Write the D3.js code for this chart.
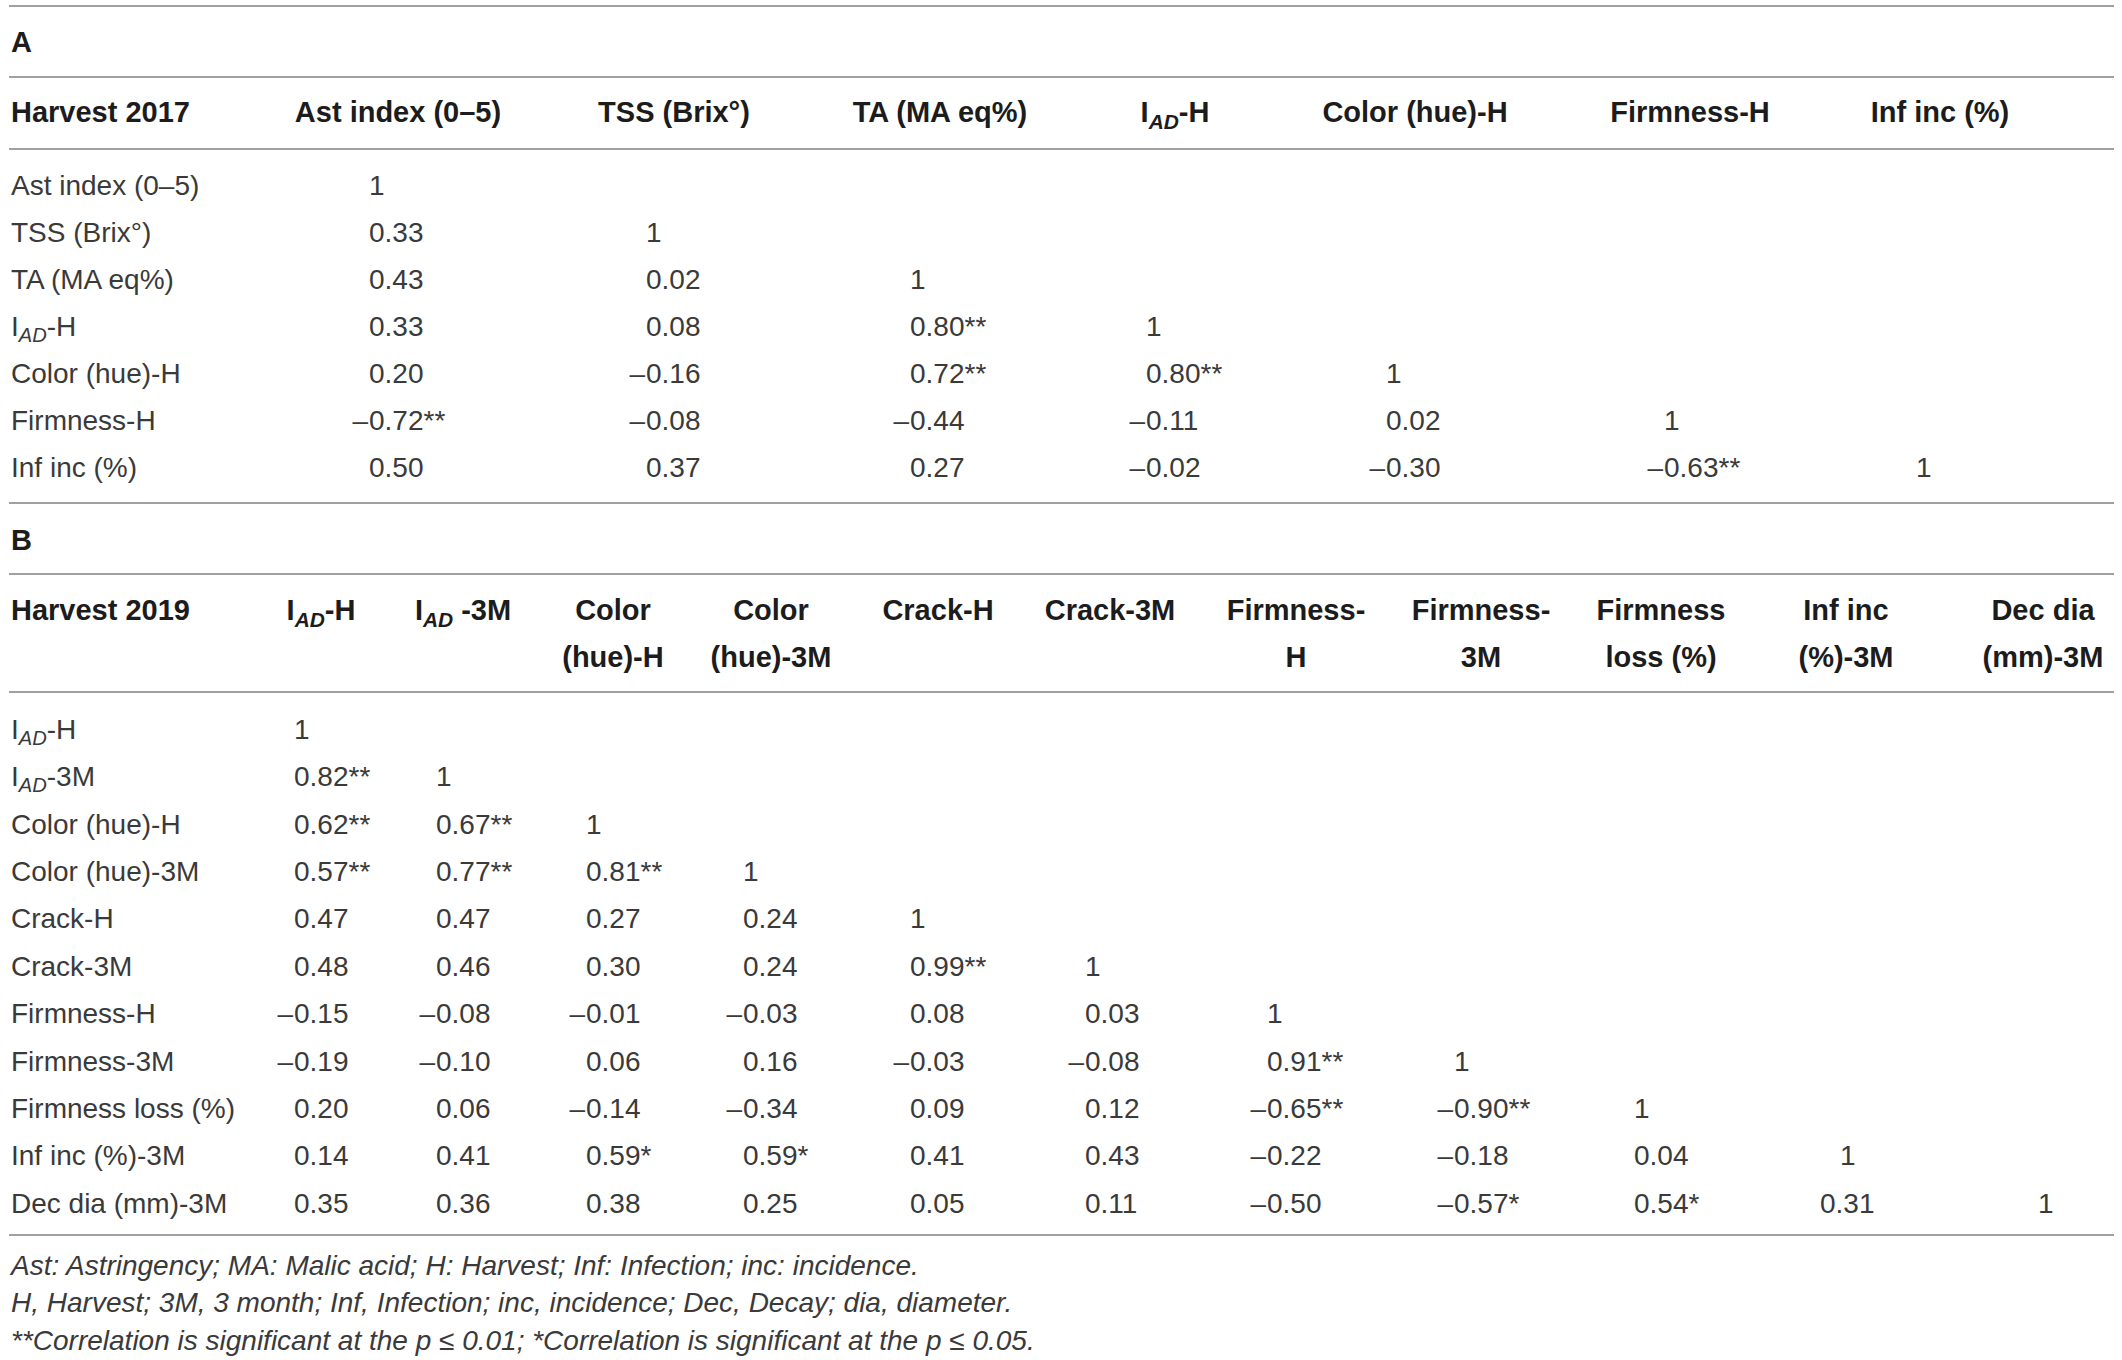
<!DOCTYPE html>
<html>
<head>
<meta charset="utf-8">
<script src="https://cdn.jsdelivr.net/npm/d3@7/dist/d3.min.js"></script>
<style>
  body { margin: 0; background: #fff; }
  svg { display: block; }
</style>
</head>
<body>
<div id="chart"></div>
<script>
// ---- table A (harvest 2017)
const titleA = "Harvest 2017";
const colsA = ["Ast index (0–5)", "TSS (Brix°)", "TA (MA eq%)", "I{AD}-H", "Color (hue)-H", "Firmness-H", "Inf inc (%)"];
const rowsA = colsA;
const corrA = [
  [1],
  [0.33, 1],
  [0.43, 0.02, 1],
  [0.33, 0.08, 0.80, 1],
  [0.20, -0.16, 0.72, 0.80, 1],
  [-0.72, -0.08, -0.44, -0.11, 0.02, 1],
  [0.50, 0.37, 0.27, -0.02, -0.30, -0.63, 1]
];
// number of asterisks per cell
const starsA = [
  [0],
  [0, 0],
  [0, 0, 0],
  [0, 0, 2, 0],
  [0, 0, 2, 2, 0],
  [2, 0, 0, 0, 0, 0],
  [0, 0, 0, 0, 0, 2, 0]
];

// ---- table B (harvest 2019)
const titleB = "Harvest 2019";
const colsB = [["I{AD}-H"], ["I{AD} -3M"], ["Color", "(hue)-H"], ["Color", "(hue)-3M"], ["Crack-H"], ["Crack-3M"],
  ["Firmness-", "H"], ["Firmness-", "3M"], ["Firmness", "loss (%)"], ["Inf inc", "(%)-3M"], ["Dec dia", "(mm)-3M"]];
const rowsB = ["I{AD}-H", "I{AD}-3M", "Color (hue)-H", "Color (hue)-3M", "Crack-H", "Crack-3M", "Firmness-H",
  "Firmness-3M", "Firmness loss (%)", "Inf inc (%)-3M", "Dec dia (mm)-3M"];
const corrB = [
  [1],
  [0.82, 1],
  [0.62, 0.67, 1],
  [0.57, 0.77, 0.81, 1],
  [0.47, 0.47, 0.27, 0.24, 1],
  [0.48, 0.46, 0.30, 0.24, 0.99, 1],
  [-0.15, -0.08, -0.01, -0.03, 0.08, 0.03, 1],
  [-0.19, -0.10, 0.06, 0.16, -0.03, -0.08, 0.91, 1],
  [0.20, 0.06, -0.14, -0.34, 0.09, 0.12, -0.65, -0.90, 1],
  [0.14, 0.41, 0.59, 0.59, 0.41, 0.43, -0.22, -0.18, 0.04, 1],
  [0.35, 0.36, 0.38, 0.25, 0.05, 0.11, -0.50, -0.57, 0.54, 0.31, 1]
];
const starsB = [
  [0],
  [2, 0],
  [2, 2, 0],
  [2, 2, 2, 0],
  [0, 0, 0, 0, 0],
  [0, 0, 0, 0, 2, 0],
  [0, 0, 0, 0, 0, 0, 0],
  [0, 0, 0, 0, 0, 0, 2, 0],
  [0, 0, 0, 0, 0, 0, 2, 2, 0],
  [0, 0, 1, 1, 0, 0, 0, 0, 0, 0],
  [0, 0, 0, 0, 0, 0, 0, 1, 1, 0, 0]
];

const footnotes = [
  "Ast: Astringency; MA: Malic acid; H: Harvest; Inf: Infection; inc: incidence.",
  "H, Harvest; 3M, 3 month; Inf, Infection; inc, incidence; Dec, Decay; dia, diameter.",
  "**Correlation is significant at the p ≤ 0.01; *Correlation is significant at the p ≤ 0.05."
];

// ---- layout
const W = 2122, H = 1360;
const left = 11, lineX0 = 9, lineX1 = 2114;
const fs = 28, fsHead = 29;
const bodyColor = "#3a3a3a", headColor = "#1c1c1c", ruleColor = "#a0a0a0";
const rules = [6, 77, 149, 503, 574, 692, 1235];
const headCentersA = [398, 674, 940, 1175, 1415, 1690, 1940];
const anchorsA = [369, 646, 910, 1146, 1386, 1664, 1916];
const headCentersB = [321, 463, 613, 771, 938, 1110, 1296, 1481, 1661, 1846, 2043];
const anchorsB = [294, 436, 586, 743, 910, 1085, 1267, 1454, 1634, 1820, 2038];
const oneShiftB = [0, 0, 0, 0, 0, 0, 0, 0, 0, 20, 0];

const svg = d3.select("#chart").append("svg")
    .attr("width", W)
    .attr("height", H)
    .style("font-family", "'Liberation Sans', Arial, Helvetica, sans-serif");

const fmt = d3.format(".2f");

// text with {subscript} parts
function rich(text, str, size) {
    const parts = str.split(/(\{[^}]*\})/).filter(p => p.length);
    let down = false;
    parts.forEach(p => {
        if (p[0] === "{") {
            text.append("tspan")
                .attr("font-style", "italic")
                .attr("font-size", size * 0.72)
                .attr("dy", size * 0.22)
                .text(p.slice(1, -1));
            down = true;
        } else {
            const t = text.append("tspan").text(p);
            if (down) {
                t.attr("dy", -size * 0.22);
                down = false;
            }
        }
    });
}

svg.selectAll("line.rule")
    .data(rules)
    .enter().append("line")
    .attr("class", "rule")
    .attr("x1", lineX0).attr("x2", lineX1)
    .attr("y1", d => d).attr("y2", d => d)
    .attr("stroke", ruleColor)
    .attr("stroke-width", 2);

function panelLabel(label, y) {
    svg.append("text")
        .attr("x", left).attr("y", y).attr("dy", "0.35em")
        .attr("font-size", fsHead).attr("font-weight", "bold").attr("fill", headColor)
        .text(label);
}

function drawTable(opt) {
    const g = svg.append("g");
    const x = d3.scaleOrdinal().domain(d3.range(opt.anchors.length)).range(opt.anchors);
    const xHead = d3.scaleOrdinal().domain(d3.range(opt.heads.length)).range(opt.headCenters);
    const y = d3.scalePoint().domain(opt.rows).range(opt.rowRange);

    // header
    g.append("text")
        .attr("x", left).attr("y", opt.headY[0]).attr("dy", "0.35em")
        .attr("font-size", fsHead).attr("font-weight", "bold").attr("fill", headColor)
        .text(opt.title);

    opt.heads.forEach((h, j) => {
        const lines = Array.isArray(h) ? h : [h];
        lines.forEach((ln, k) => {
            const t = g.append("text")
                .attr("x", xHead(j)).attr("y", opt.headY[k]).attr("dy", "0.35em")
                .attr("text-anchor", "middle")
                .attr("font-size", fsHead).attr("font-weight", "bold").attr("fill", headColor);
            rich(t, ln, fsHead);
        });
    });

    // row labels
    opt.rows.forEach(r => {
        const t = g.append("text")
            .attr("x", left).attr("y", y(r)).attr("dy", "0.35em")
            .attr("font-size", fs).attr("fill", bodyColor);
        rich(t, r, fs);
    });

    // cells
    const cells = [];
    opt.values.forEach((row, i) => row.forEach((v, j) => {
        cells.push({row: opt.rows[i], col: j, v: v, stars: opt.stars[i][j]});
    }));

    const cg = g.selectAll("g.cell").data(cells).enter().append("g").attr("class", "cell");

    cg.filter(d => d.v < 0).append("text")
        .attr("x", d => x(d.col) - 1)
        .attr("y", d => y(d.row)).attr("dy", "0.35em")
        .attr("text-anchor", "end")
        .attr("font-size", fs).attr("fill", bodyColor)
        .text("–");

    cg.append("text")
        .attr("x", d => x(d.col) + (d.v === 1 ? opt.oneShift[d.col] : 0))
        .attr("y", d => y(d.row)).attr("dy", "0.35em")
        .attr("font-size", fs).attr("fill", bodyColor)
        .text(d => (d.v === 1 ? "1" : fmt(Math.abs(d.v))) + "*".repeat(d.stars));
}

panelLabel("A", 42);
drawTable({
    title: titleA, heads: colsA, headCenters: headCentersA, headY: [112],
    rows: rowsA, rowRange: [185, 467], anchors: anchorsA,
    oneShift: anchorsA.map(() => 0), values: corrA, stars: starsA
});

panelLabel("B", 540);
drawTable({
    title: titleB, heads: colsB, headCenters: headCentersB, headY: [610, 657],
    rows: rowsB, rowRange: [729, 1203], anchors: anchorsB,
    oneShift: oneShiftB, values: corrB, stars: starsB
});

// footnotes
const fy = d3.scalePoint().domain(d3.range(footnotes.length)).range([1265, 1340]);
svg.selectAll("text.note")
    .data(footnotes)
    .enter().append("text")
    .attr("class", "note")
    .attr("x", left).attr("y", (d, i) => fy(i)).attr("dy", "0.35em")
    .attr("font-size", fs).attr("font-style", "italic").attr("fill", bodyColor)
    .text(d => d);
</script>
</body>
</html>
